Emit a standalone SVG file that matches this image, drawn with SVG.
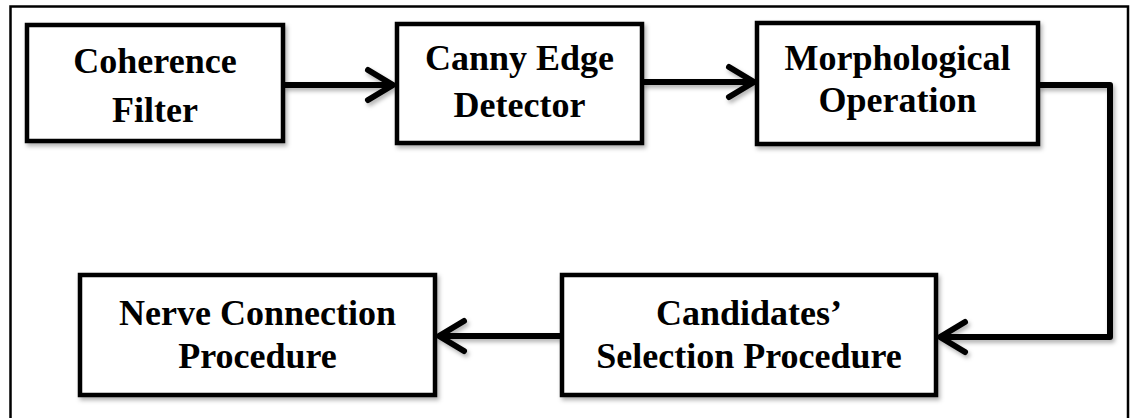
<svg xmlns="http://www.w3.org/2000/svg" width="1130" height="418" viewBox="0 0 1130 418">
  <defs>
    <filter id="shadow" filterUnits="userSpaceOnUse" x="0" y="0" width="1130" height="418">
      <feDropShadow dx="2" dy="3" stdDeviation="2" flood-color="#000" flood-opacity="0.3"/>
    </filter>
    <marker id="chevron" markerUnits="userSpaceOnUse" markerWidth="40" markerHeight="40" refX="0" refY="0" viewBox="-30 -20 40 40" orient="auto" overflow="visible">
      <path d="M-25,-15 L0,0 L-25,15" fill="none" stroke="#000" stroke-width="6" stroke-linecap="round" stroke-linejoin="round"/>
    </marker>
  </defs>
  <style>
    .box { fill: #fff; stroke: #000; stroke-width: 4.5; filter: url(#shadow); }
    .label { font-family: "Liberation Serif", "Times New Roman", serif; font-weight: bold; font-size: 36px; fill: #000; text-anchor: middle; }
    .conn { fill: none; stroke: #000; stroke-width: 6; stroke-linejoin: round; marker-end: url(#chevron); filter: url(#shadow); }
  </style>

  <rect width="1130" height="418" fill="#fff"/>
  <!-- outer frame -->
  <path d="M10.5,421 V6.5 H1128 V421" fill="none" stroke="#000" stroke-width="2.5"/>

  <g id="connectors">
    <path class="conn" d="M283,85 H393"/>
    <path class="conn" d="M642,82 H754"/>
    <path class="conn" d="M1038,85 H1110 V337 H940"/>
    <path class="conn" d="M562,336 H439"/>
  </g>

  <g id="coherence-filter">
    <rect class="box" x="27" y="25" width="256" height="116"/>
    <text class="label" x="155" y="73">Coherence</text>
    <text class="label" x="155" y="122">Filter</text>
  </g>

  <g id="canny-edge-detector">
    <rect class="box" x="397" y="24" width="245" height="119"/>
    <text class="label" x="519.5" y="70">Canny Edge</text>
    <text class="label" x="519.5" y="117">Detector</text>
  </g>

  <g id="morphological-operation">
    <rect class="box" x="757" y="23" width="281" height="121"/>
    <text class="label" x="897.5" y="70">Morphological</text>
    <text class="label" x="897.5" y="112">Operation</text>
  </g>

  <g id="candidates-selection">
    <rect class="box" x="562" y="275" width="374" height="120"/>
    <text class="label" x="749" y="325">Candidates’</text>
    <text class="label" x="749" y="368">Selection Procedure</text>
  </g>

  <g id="nerve-connection">
    <rect class="box" x="80" y="275" width="355" height="120"/>
    <text class="label" x="257.5" y="325">Nerve Connection</text>
    <text class="label" x="257.5" y="368">Procedure</text>
  </g>
</svg>
